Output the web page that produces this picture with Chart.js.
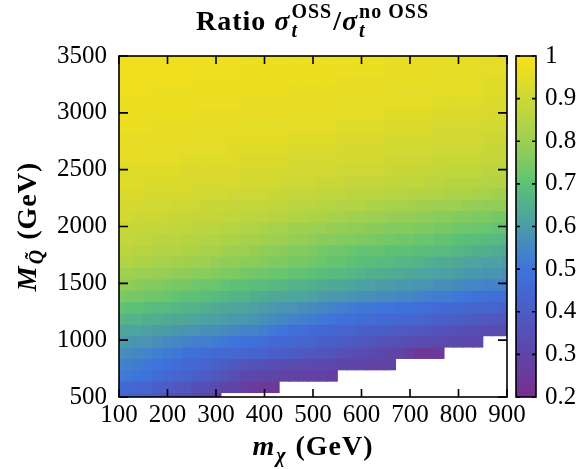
<!DOCTYPE html>
<html>
<head>
<meta charset="utf-8">
<script src="https://cdn.jsdelivr.net/npm/chart.js@4.4.1/dist/chart.umd.min.js"></script>
<style>
  body { margin: 0; background: #fff; }
  #wrap { position: relative; width: 584px; height: 469px; }
  #wrap canvas { position: absolute; top: 0; }
  #main { left: 0; }
  #cbar { left: 500px; }
</style>
</head>
<body>
<div id="wrap">
  <canvas id="main" width="584" height="469"></canvas>
  <canvas id="cbar" width="84" height="469"></canvas>
</div>
<script>
// ---------- data ----------
// column centres (m_chi, GeV)
const mChi = [100, 120, 140, 160, 180, 200, 220, 240, 260, 280, 300, 320, 340, 360, 380, 400, 420, 440, 460, 480, 500,
  520, 540, 560, 580, 600, 620, 640, 660, 680, 700, 720, 740, 760, 780, 800, 820, 840, 860, 880, 900];

// row centres (M_Q, GeV), bottom -> top
const mQ = [490, 590, 690, 790, 890, 990, 1090, 1190, 1290, 1390, 1490, 1590, 1690, 1790, 1890, 1990,
  2090, 2190, 2290, 2390, 2490, 2590, 2690, 2790, 2890, 2990, 3090, 3190, 3290, 3390, 3490];

// ratio in percent, one row per mQ entry, starting at mChi = 100 (short rows = no point further right)
const ratioPct = [
  [44,43,41,40,38,36,35,33,31,29,27],
  [46,45,44,43,41,40,38,37,35,34,32,30,29,27,25,24,24],
  [52,51,50,49,47,46,44,43,41,40,38,36,34,31,31,30,30,29,29,28,28,28,27],
  [54,53,52,51,50,49,47,46,45,43,42,40,38,37,36,35,34,33,33,32,32,31,31,30,30,30,29,29,29],
  [57,56,55,54,53,52,51,49,48,47,46,46,45,44,43,43,42,41,40,39,38,37,36,35,34,33,32,31,30,29,27,24,24,25],
  [60,59,58,58,57,56,55,54,53,53,52,51,50,49,48,47,46,45,45,44,43,42,41,40,39,38,37,36,35,35,34,33,33,32,32,31,31,31],
  [63,62,62,61,60,60,59,58,58,57,57,56,55,54,54,53,51,50,48,47,46,45,44,43,43,42,41,41,40,39,39,38,37,36,36,35,34,34,33,33,33],
  [67,66,66,65,65,64,63,63,62,61,61,60,59,59,58,57,56,55,54,53,52,51,50,49,48,47,47,46,46,45,45,44,43,42,42,41,40,39,38,38,37],
  [71,70,70,69,68,68,67,66,66,65,64,63,62,62,61,60,59,58,58,57,56,55,54,53,52,51,51,50,50,49,49,48,47,46,46,45,44,44,43,43,42],
  [75,74,74,73,73,72,71,70,70,69,68,67,66,66,65,64,63,63,62,62,61,60,59,59,58,57,57,56,56,55,55,54,53,52,52,51,50,49,48,48,47],
  [78,78,77,76,76,75,74,74,73,72,72,71,70,70,69,69,68,67,66,66,65,64,63,63,62,61,61,60,60,59,59,58,58,57,57,56,55,55,54,54,53],
  [81,81,80,80,79,79,78,78,77,77,76,75,75,74,73,73,72,72,71,71,70,69,68,68,67,66,65,65,64,64,63,62,62,61,61,60,59,59,58,58,57],
  [84,84,83,83,82,82,81,81,80,80,79,78,78,77,77,76,75,75,74,74,73,72,71,71,70,69,69,68,68,67,67,66,65,64,64,63,62,62,61,61,60],
  [86,86,85,85,84,84,84,83,83,82,82,81,80,80,79,78,78,77,76,76,75,74,73,73,72,71,71,71,70,70,70,69,69,68,68,67,66,65,65,64,63],
  [88,88,87,87,86,86,86,85,85,84,84,83,83,82,82,81,80,80,79,79,78,77,77,76,76,75,75,74,74,73,73,72,72,71,71,70,69,69,68,68,67],
  [89,89,89,88,88,88,87,87,86,86,86,85,85,84,84,83,82,82,81,81,80,80,79,79,78,78,77,77,76,76,76,75,75,74,74,73,73,72,72,71,71],
  [91,91,90,90,90,89,89,89,88,88,88,87,87,86,86,86,85,85,84,84,83,83,82,82,81,81,80,80,79,79,79,78,78,77,77,76,76,75,75,74,74],
  [92,92,92,91,91,91,90,90,90,89,89,89,88,88,88,88,87,87,86,86,86,85,85,84,84,84,83,83,82,82,82,81,81,80,80,80,79,79,78,78,78],
  [93,93,93,92,92,92,92,92,91,91,91,91,90,90,90,90,89,89,88,88,88,87,87,87,86,86,86,86,85,85,85,84,84,84,83,83,83,82,82,81,81],
  [94,94,94,93,93,93,93,93,92,92,92,92,92,91,91,91,91,90,90,90,90,89,89,89,88,88,88,88,87,87,87,87,86,86,85,85,85,85,84,84,84],
  [94,94,94,94,94,94,94,93,93,93,93,93,93,92,92,92,92,92,91,91,91,91,91,90,90,90,90,90,89,89,89,89,88,88,87,87,87,87,86,86,86],
  [95,95,95,95,95,95,95,94,94,94,94,94,94,93,93,93,93,93,92,92,92,92,92,91,91,91,91,91,90,90,90,90,90,89,89,89,89,89,88,88,88],
  [96,96,96,96,95,95,95,95,95,95,95,95,94,94,94,94,94,94,93,93,93,93,93,92,92,92,92,92,91,91,91,91,91,90,90,90,90,90,89,89,89],
  [96,96,96,96,96,96,96,96,95,95,95,95,95,95,95,95,95,95,94,94,94,94,94,93,93,93,93,93,92,92,92,92,92,91,91,91,91,91,90,90,90],
  [97,97,97,97,96,96,96,96,96,96,96,96,96,95,95,95,95,95,95,95,95,95,95,94,94,94,94,94,93,93,93,93,93,92,92,92,92,92,91,91,91],
  [97,97,97,97,97,97,97,97,97,96,96,96,96,96,96,96,96,96,95,95,95,95,95,95,95,95,95,95,94,94,94,94,94,93,93,93,93,93,92,92,92],
  [97,97,97,97,97,97,97,97,97,97,97,97,97,96,96,96,96,96,96,96,96,96,96,95,95,95,95,95,95,95,95,95,95,94,94,94,94,94,93,93,93],
  [98,98,98,98,97,97,97,97,97,97,97,97,97,97,97,97,97,97,96,96,96,96,96,96,96,96,96,96,95,95,95,95,95,95,95,95,95,95,94,94,94],
  [98,98,98,98,98,98,98,98,97,97,97,97,97,97,97,97,97,97,97,97,97,97,97,96,96,96,96,96,96,96,96,96,96,95,95,95,95,95,94,94,94],
  [98,98,98,98,98,98,98,98,98,98,98,98,98,97,97,97,97,97,97,97,97,97,97,97,97,97,97,97,96,96,96,96,96,95,95,95,95,95,95,95,95],
  [98,98,98,98,98,98,98,98,98,98,98,98,98,97,97,97,97,97,97,97,97,97,97,97,97,97,97,97,96,96,96,96,96,96,96,96,96,96,95,95,95],
];

const ROW_H = 100; // GeV per row
const COLOR_MIN = 0.2;
const COLOR_MAX = 1;

// colormap stops (value, rgb)
const cmapStops = [
  [0.20, [122, 46, 141]], [0.25, [107, 58, 156]], [0.30, [94, 69, 168]], [0.35, [85, 80, 182]],
  [0.40, [76, 92, 196]], [0.45, [68, 103, 210]], [0.50, [62, 116, 220]], [0.55, [68, 135, 196]],
  [0.60, [76, 156, 168]], [0.65, [82, 175, 142]], [0.70, [92, 193, 118]], [0.75, [125, 202, 98]],
  [0.80, [156, 207, 82]], [0.85, [182, 212, 66]], [0.90, [205, 216, 54]], [0.95, [228, 220, 38]],
  [1.00, [248, 225, 26]],
];

// ---------- helpers ----------
function cmap(v) {
  if (v <= cmapStops[0][0]) return `rgb(${cmapStops[0][1].join(",")})`;
  for (let i = 1; i < cmapStops.length; i++) {
    const [v1, c1] = cmapStops[i];
    if (v <= v1) {
      const [v0, c0] = cmapStops[i - 1];
      const t = (v - v0) / (v1 - v0);
      const c = c0.map((a, k) => Math.round(a + (c1[k] - a) * t));
      return `rgb(${c.join(",")})`;
    }
  }
  return `rgb(${cmapStops[cmapStops.length - 1][1].join(",")})`;
}

const SERIF = '"Liberation Serif", "DejaVu Serif", serif';
const TICK_FONT = { family: SERIF, size: 25 };
const F_B = `bold 28px ${SERIF}`;
const F_BI = `italic bold 28px ${SERIF}`;
const F_SB = `bold 20px ${SERIF}`;
const F_SBI = `italic bold 20px ${SERIF}`;
const SPACING = "1px";

// rich text: plain runs {t, f} and script blocks {sup, sub}
function runWidth(ctx, r) {
  if (r.t !== undefined) { ctx.font = r.f; return ctx.measureText(r.t).width; }
  let w = 0;
  if (r.sup) { ctx.font = F_SB; w = Math.max(w, ctx.measureText(r.sup).width); }
  if (r.sub) { ctx.font = F_SBI; w = Math.max(w, ctx.measureText(r.sub).width); }
  return w + 2;
}

function drawRich(ctx, runs, cx, baseline) {
  ctx.letterSpacing = SPACING;
  const total = runs.reduce((s, r) => s + runWidth(ctx, r), 0);
  let x = cx - total / 2;
  ctx.textAlign = "left";
  ctx.textBaseline = "alphabetic";
  ctx.fillStyle = "#000";
  for (const r of runs) {
    const w = runWidth(ctx, r);
    if (r.t !== undefined) {
      ctx.font = r.f;
      ctx.fillText(r.t, x, baseline);
    } else {
      if (r.sup) { ctx.font = F_SB; ctx.fillText(r.sup, x + 1, baseline - 12); }
      if (r.sub) { ctx.font = F_SBI; ctx.fillText(r.sub, x + 1, baseline + 7); }
    }
    x += w;
  }
}

// ---------- plugins ----------
const frame = {
  id: "frame",
  afterDatasetsDraw(chart) {
    const { ctx, chartArea: a, scales: { x, y } } = chart;
    ctx.save();
    ctx.strokeStyle = "#000";
    ctx.lineWidth = 1.6;
    ctx.beginPath();
    x.ticks.forEach((t) => {
      const px = x.getPixelForValue(t.value);
      ctx.moveTo(px, a.bottom); ctx.lineTo(px, a.bottom - 8);
      ctx.moveTo(px, a.top); ctx.lineTo(px, a.top + 8);
    });
    y.ticks.forEach((t) => {
      const py = y.getPixelForValue(t.value);
      ctx.moveTo(a.left, py); ctx.lineTo(a.left + 9, py);
      ctx.moveTo(a.right, py); ctx.lineTo(a.right - 9, py);
    });
    ctx.stroke();
    ctx.strokeRect(a.left, a.top, a.width, a.height);
    ctx.restore();
  },
  afterDraw(chart) {
    const { ctx, chartArea: a } = chart;
    const cx = (a.left + a.right) / 2;
    ctx.save();
    drawRich(ctx, [
      { t: "Ratio ", f: F_B },
      { t: "σ", f: F_BI },
      { sup: "OSS", sub: "t" },
      { t: "/", f: F_B },
      { t: "σ", f: F_BI },
      { sup: "no OSS", sub: "t" },
    ], cx, 30);
    drawRich(ctx, [
      { t: "m", f: F_BI },
      { sub: "χ" },
      { t: " (GeV)", f: F_B },
    ], cx, 455);
    ctx.translate(27, (a.top + a.bottom) / 2);
    ctx.rotate(-Math.PI / 2);
    drawRich(ctx, [
      { t: "M", f: F_BI },
      { sub: "Q̃" },
      { t: " (GeV)", f: F_B },
    ], 0, 9);
    ctx.restore();
  },
};

const barFrame = {
  id: "barFrame",
  afterDatasetsDraw(chart) {
    const { ctx, chartArea: a, scales: { y } } = chart;
    ctx.save();
    ctx.strokeStyle = "#000";
    ctx.lineWidth = 1.6;
    ctx.beginPath();
    y.ticks.forEach((t) => {
      const py = y.getPixelForValue(t.value);
      ctx.moveTo(a.left, py); ctx.lineTo(a.left + 4, py);
      ctx.moveTo(a.right, py); ctx.lineTo(a.right - 4, py);
    });
    ctx.stroke();
    ctx.strokeRect(a.left, a.top, a.width, a.height);
    ctx.restore();
  },
};

// ---------- heatmap ----------
const cells = [];
const cellColors = [];
mQ.forEach((m, r) => {
  ratioPct[r].forEach((p, c) => {
    cells.push({ x: mChi[c], y: [m - ROW_H / 2, m + ROW_H / 2] });
    cellColors.push(cmap(p / 100));
  });
});

new Chart(document.getElementById("main"), {
  type: "bar",
  data: {
    datasets: [{
      data: cells,
      backgroundColor: cellColors,
      borderWidth: 0,
      categoryPercentage: 1,
      barPercentage: 1,
      inflateAmount: 0.6,
      clip: 0,
    }],
  },
  options: {
    responsive: false,
    animation: false,
    events: [],
    layout: { padding: { top: 56, right: 77, bottom: 0, left: 0 } },
    plugins: { legend: { display: false }, tooltip: { enabled: false } },
    scales: {
      x: {
        type: "linear",
        min: 100,
        max: 900,
        offset: false,
        grid: { display: false, drawTicks: false },
        border: { display: false },
        ticks: { stepSize: 100, color: "#000", font: TICK_FONT, padding: 3, maxRotation: 0, callback: (v) => String(v) },
        afterFit: (s) => { s.height = 72; },
      },
      y: {
        type: "linear",
        min: 500,
        max: 3500,
        grid: { display: false, drawTicks: false },
        border: { display: false },
        ticks: { stepSize: 500, color: "#000", font: TICK_FONT, padding: 12, callback: (v) => String(v) },
        afterFit: (s) => { s.width = 119; },
      },
    },
  },
  plugins: [frame],
});

// ---------- colour bar ----------
new Chart(document.getElementById("cbar"), {
  type: "bar",
  data: {
    labels: [""],
    datasets: [{
      data: [[COLOR_MIN, COLOR_MAX]],
      borderWidth: 0,
      categoryPercentage: 1,
      barPercentage: 1,
      backgroundColor: (c) => {
        const { chartArea, ctx } = c.chart;
        if (!chartArea) return "#888";
        const g = ctx.createLinearGradient(0, chartArea.bottom, 0, chartArea.top);
        cmapStops.forEach(([v, rgb]) => {
          g.addColorStop((v - COLOR_MIN) / (COLOR_MAX - COLOR_MIN), `rgb(${rgb.join(",")})`);
        });
        return g;
      },
    }],
  },
  options: {
    responsive: false,
    animation: false,
    events: [],
    layout: { padding: { top: 56, right: 0, bottom: 72, left: 16 } },
    plugins: { legend: { display: false }, tooltip: { enabled: false } },
    scales: {
      x: { display: false },
      y: {
        position: "right",
        min: COLOR_MIN,
        max: COLOR_MAX,
        grid: { display: false, drawTicks: false },
        border: { display: false },
        ticks: {
          stepSize: 0.1,
          color: "#000",
          font: TICK_FONT,
          padding: 9,
          callback: (v) => (Math.abs(v - 1) < 1e-9 ? "1" : v.toFixed(1)),
        },
        afterFit: (s) => { s.width = 48; },
      },
    },
  },
  plugins: [barFrame],
});
</script>
</body>
</html>
